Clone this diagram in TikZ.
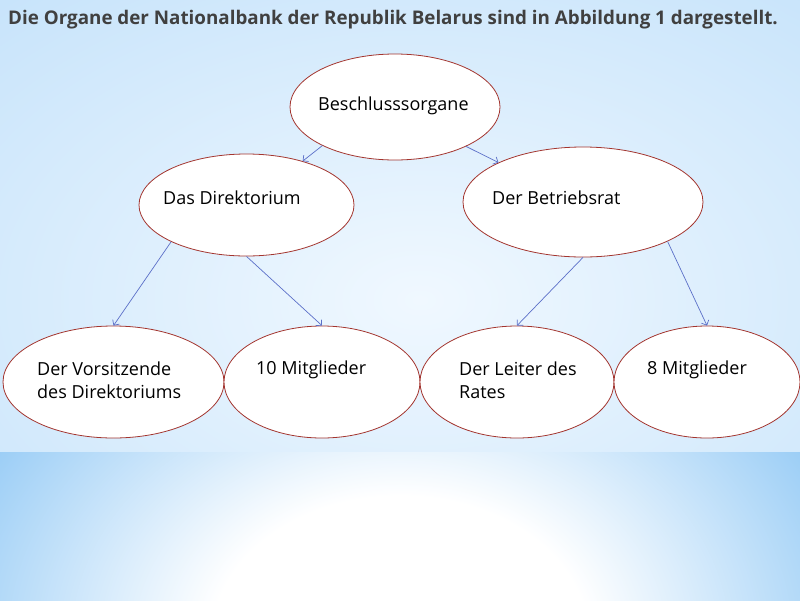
\documentclass[tikz,border=0pt]{standalone}
\usepackage{fontspec}
\setmainfont{Open Sans}
\usepackage{tikz}
\usetikzlibrary{shapes.geometric, arrows.meta, fadings}
\definecolor{bgblue}{HTML}{B0D8F8}
\definecolor{bgedge}{HTML}{9CCEF6}
\definecolor{bglight}{HTML}{F0F8FF}
\definecolor{rimred}{HTML}{A3352F}
\definecolor{arrowblue}{HTML}{5B6FC8}
\definecolor{titlegray}{HTML}{404040}
\pgfdeclareradialshading{bottomglow}{\pgfpoint{0bp}{0bp}}{color(0bp)=(white); color(10bp)=(white); color(25bp)=(bgedge); color(50bp)=(bgedge)}
\tikzfading[name=bandfade, top color=transparent!100, middle color=transparent!0, bottom color=transparent!100]

\begin{document}
\begin{tikzpicture}[x=1pt, y=-1pt,
  organ/.style={ellipse, draw=rimred, fill=white, line width=0.8pt, inner sep=0pt},
  lbl/.style={anchor=base west, inner sep=0pt, font=\fontsize{18}{23}\selectfont, align=left},
  link/.style={-{Straight Barb[length=4pt, width=8pt]}, draw=arrowblue, line width=0.7pt}]
% background
\useasboundingbox (0,0) rectangle (800,600);
\scope
\clip (0,0) rectangle (800,452);
\fill[bgblue] (0,0) rectangle (800,452);
\shade[inner color=bglight, outer color=bgblue] (420,300) ellipse [x radius=1000pt, y radius=640pt];
\endscope
\scope
\clip (0,452) rectangle (800,600);
\fill[bgedge] (0,452) rectangle (800,600);
\shade[shading=bottomglow] (400,640) ellipse [x radius=470pt, y radius=360pt];
\endscope
\fill[white, opacity=0.55, path fading=bandfade] (0,430) rectangle (800,472);

% title
\node[anchor=base west, inner sep=0pt, text=titlegray,
      font=\bfseries\fontsize{18.8}{22}\selectfont] (title) at (8,24)
  {Die Organe der Nationalbank der Republik Belarus sind in Abbildung 1 dargestellt.};

% ellipses
\node[organ, minimum width=210, minimum height=106] (bes) at (395,107) {};
\node[organ, minimum width=215, minimum height=102] (dir) at (246.5,205) {};
\node[organ, minimum width=240, minimum height=110] (rat) at (583,202) {};
\node[organ, minimum width=221, minimum height=112] (vor) at (113.5,382) {};
\node[organ, minimum width=196, minimum height=112] (mzehn) at (322,382) {};
\node[organ, minimum width=194, minimum height=112] (lei) at (517,382) {};
\node[organ, minimum width=186, minimum height=112] (macht) at (707,382) {};

% texts
\node[lbl] (tbes) at (318,110) {Beschlusssorgane};
\node[lbl] (tdir) at (163,204) {Das Direktorium};
\node[lbl] (trat) at (492,204) {Der Betriebsrat};
\node[lbl] (tvor) at (37,398) {Der Vorsitzende\\des Direktoriums};
\node[lbl] (tmzehn) at (256,374) {10 Mitglieder};
\node[lbl] (tlei) at (459,398) {Der Leiter des\\Rates};
\node[lbl] (tmacht) at (647,374) {8 Mitglieder};

% arrows
\draw[link] (bes.208) -- (dir.38);
\draw[link] (bes.-29) -- (rat.155);
\draw[link] (dir.206) -- (vor.north);
\draw[link] (dir.south) -- (mzehn.north);
\draw[link] (rat.south) -- (lei.north);
\draw[link] (rat.-25) -- (macht.north);
\end{tikzpicture}
\end{document}
